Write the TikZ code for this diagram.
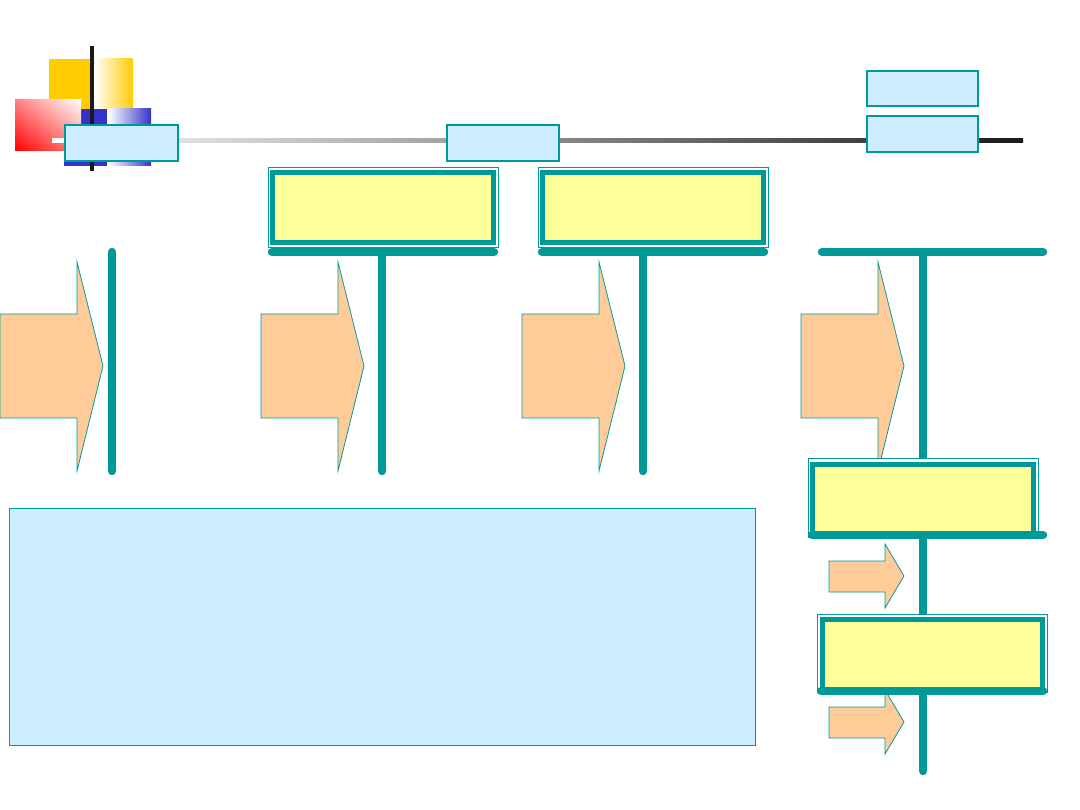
\documentclass[tikz,border=0pt]{standalone}
\usetikzlibrary{shadings}
\definecolor{teal1}{HTML}{009999}
\definecolor{lblue}{HTML}{CCECFF}
\definecolor{lyel}{HTML}{FFFF99}
\definecolor{lora}{HTML}{FFCC99}
\definecolor{gold}{HTML}{FFCC00}
\definecolor{dblue}{HTML}{3333CC}
\definecolor{dred}{HTML}{FF0000}
\definecolor{mred}{HTML}{FF8080}
\begin{document}
\begin{tikzpicture}[x=1pt,y=-1pt,
  lbbox/.style={draw=teal1,line width=1.5pt,fill=lblue,inner sep=0pt,outer sep=0pt,anchor=north west},
  outerbox/.style={draw=teal1,line width=1pt,fill=white,inner sep=0pt,outer sep=0pt,anchor=north west},
  ybox/.style={draw=teal1,line width=5.5pt,fill=lyel,inner sep=0pt,outer sep=0pt,anchor=north west},
  bar/.style={draw=teal1,line width=8.5pt,line cap=round},
  bigarrow/.style={draw=teal1,line width=0.8pt,fill=lora,line join=miter}]
\useasboundingbox (0,0) rectangle (1080,810);
\fill[white] (0,0) rectangle (1080,810);
% logo
\fill[gold] (49,59) rectangle (92,110);
\shade[left color=white,right color=gold] (94,59) rectangle (133,110);
\fill[dblue] (64,109) rectangle (107,166);
\shade[left color=white,right color=dblue] (108,109) rectangle (151,166);
\shade[upper left=mred,upper right=white,lower left=dred,lower right=mred] (15,100) rectangle (81,151);
% timeline
\shade[left color=white,right color=black!90] (52,139) rectangle (1023,143);
\draw[line width=4pt,black!90] (92,46) -- (92,171);
% light blue label boxes
\node[lbbox,minimum width=113pt,minimum height=36pt] (t1) at (65,125) {};
\node[lbbox,minimum width=112pt,minimum height=36pt] (t2) at (447,125) {};
\node[lbbox,minimum width=111pt,minimum height=35pt] (t3) at (867,71) {};
\node[lbbox,minimum width=111pt,minimum height=36pt] (t4) at (867,116) {};
% big arrows
\foreach \x in {0,261,522,801}{
  \draw[bigarrow] (\x,314) -- ++(77,0) -- ++(0,-52) -- ++(26,104) -- ++(-26,105) -- ++(0,-53) -- ++(-77,0) -- cycle;
}
% small arrows
\foreach \y in {0,146}{
  \draw[bigarrow] (829,561+\y) -- (885,561+\y) -- (885,544+\y) -- (904,576+\y) -- (885,608+\y) -- (885,592+\y) -- (829,592+\y) -- cycle;
}
% coordinates for bars
\coordinate (v1a) at (112,252); \coordinate (v1b) at (112,471);
\coordinate (h2a) at (272,252); \coordinate (h2b) at (494,252);
\coordinate (v2a) at (382,252); \coordinate (v2b) at (382,471);
\coordinate (h3a) at (542,252); \coordinate (h3b) at (764,252);
\coordinate (v3a) at (643,252); \coordinate (v3b) at (643,471);
\coordinate (h4a) at (822,252); \coordinate (h4b) at (1043,252);
\coordinate (v4a) at (923,252); \coordinate (v4b) at (923,771);
\coordinate (h5a) at (812,535); \coordinate (h5b) at (1043,535);
\coordinate (h6a) at (821,691); \coordinate (h6b) at (1043,691);
\draw[bar] (v1a) -- (v1b);
\draw[bar] (v2a) -- (v2b);
\draw[bar] (v3a) -- (v3b);
\draw[bar] (v4a) -- (v4b);
% yellow boxes
\node[outerbox,minimum width=230pt,minimum height=80pt] (o1) at (268,168) {};
\node[ybox,minimum width=221pt,minimum height=70pt] (y1) at (272.5,172.5) {};
\node[outerbox,minimum width=230pt,minimum height=80pt] (o2) at (538,168) {};
\node[ybox,minimum width=221pt,minimum height=70pt] (y2) at (542.5,172.5) {};
\node[outerbox,minimum width=230pt,minimum height=78pt] (o3) at (808,459) {};
\node[ybox,minimum width=221pt,minimum height=70pt] (y3) at (812.5,464.5) {};
\node[outerbox,minimum width=230pt,minimum height=78pt] (o4) at (817,614) {};
\node[ybox,minimum width=220pt,minimum height=70pt] (y4) at (822.5,619.5) {};
\draw[bar] (h2a) -- (h2b);
\draw[bar] (h3a) -- (h3b);
\draw[bar] (h4a) -- (h4b);
\draw[bar] (h5a) -- (h5b);
\draw[bar] (h6a) -- (h6b);
% big light blue panel
\node[draw=teal1,line width=1pt,fill=lblue,inner sep=0pt,outer sep=0pt,anchor=north west,minimum width=746pt,minimum height=237pt] (panel) at (9,508) {};
\end{tikzpicture}
\end{document}
